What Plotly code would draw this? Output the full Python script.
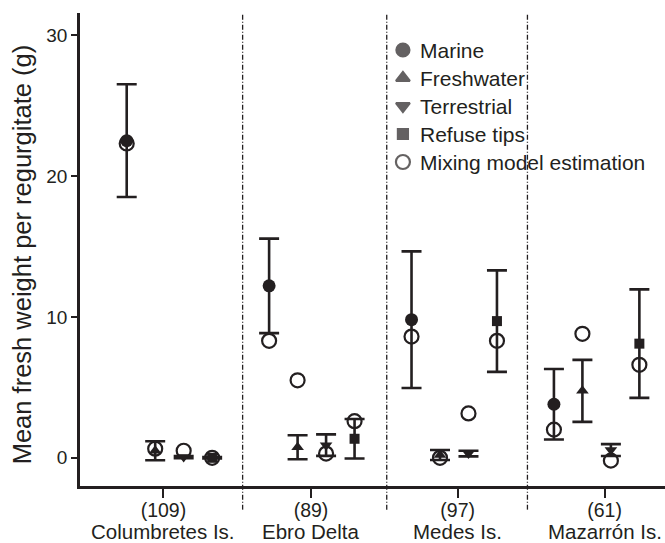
import plotly.graph_objects as go

# Study colonies and sample sizes (number of regurgitates)
sites = ["Columbretes Is.", "Ebro Delta", "Medes Is.", "Mazarrón Is."]
sample_sizes = ["(109)", "(89)", "(97)", "(61)"]

# Mean fresh weight per regurgitate (g) and error by food source
marine_mean = [22.5, 12.2, 9.8, 3.8]
marine_err = [4.0, 3.35, 4.85, 2.5]
fresh_mean = [0.5, 0.75, 0.2, 4.75]
fresh_err = [0.67, 0.85, 0.35, 2.2]
terr_mean = [0.05, 0.9, 0.3, 0.55]
terr_err = [0.08, 0.76, 0.2, 0.42]
refuse_mean = [0.0, 1.35, 9.7, 8.1]
refuse_err = [0.05, 1.4, 3.6, 3.85]

# Mixing model estimation for each source
mix_marine = [22.3, 8.3, 8.6, 2.0]
mix_fresh = [0.65, 5.5, 0.0, 8.8]
mix_terr = [0.5, 0.3, 3.15, -0.2]
mix_refuse = [0.0, 2.6, 8.3, 6.6]

legend_labels = ["Marine", "Freshwater", "Terrestrial", "Refuse tips", "Mixing model estimation"]

# Horizontal layout of the groups
site_x = [0, 5, 10, 15]
tick_x = [1.29, 6.47, 11.62, 16.78]
divider_x = [4.07, 9.13, 14.07]

INK = "#231f20"
FONT = "Liberation Sans, Arial, Helvetica, sans-serif"

fig = go.Figure()

# Open circles: mixing model estimates (drawn first, underneath)
mix_x, mix_y = [], []
for k, vals in enumerate([mix_marine, mix_fresh, mix_terr, mix_refuse]):
    for g, v in enumerate(vals):
        mix_x.append(site_x[g] + k)
        mix_y.append(v)
open_marker = dict(symbol="circle-open", size=14, color=INK, line=dict(width=2.2, color=INK))
fig.add_trace(go.Scatter(x=mix_x, y=mix_y, mode="markers", showlegend=False,
                         marker=open_marker, name="Mixing model estimation"))

series = [
    ("Marine", marine_mean, marine_err, "circle", 13),
    ("Freshwater", fresh_mean, fresh_err, "triangle-up", 11),
    ("Terrestrial", terr_mean, terr_err, "triangle-down", 11),
    ("Refuse tips", refuse_mean, refuse_err, "square", 10),
]
for k, (name, mean, err, sym, sz) in enumerate(series):
    fig.add_trace(go.Scatter(
        x=[p + k for p in site_x], y=mean, mode="markers", name=name, showlegend=False,
        marker=dict(symbol=sym, size=sz, color=INK),
        error_y=dict(type="data", array=err, visible=True, color=INK, thickness=2.6, width=10),
    ))

# Key drawn on an overlay axis spanning the plot area (0..1 both ways)
key_x0, key_top, key_step = 0.552, (486 - 50) / 473, 28 / 473
key_y = [key_top - i * key_step for i in range(len(legend_labels))]
key_symbols = ["circle", "triangle-up", "triangle-down", "square", "circle-open"]
key_sizes = [13, 12, 12, 10, 14]
fig.add_trace(go.Scatter(
    x=[key_x0] * len(legend_labels), y=key_y, xaxis="x2", yaxis="y2",
    mode="markers", showlegend=False, hoverinfo="skip",
    marker=dict(symbol=key_symbols, size=key_sizes, color=INK, line=dict(width=2.2, color=INK)),
))

annotations = []
for label, ky in zip(legend_labels, key_y):
    annotations.append(dict(text=label, x=key_x0 + 0.0265, xref="paper", y=ky, yref="paper",
                            xanchor="left", yanchor="middle", showarrow=False,
                            font=dict(size=21, color=INK, family=FONT)))

# Dash-dot dividers between colonies
for d in divider_x:
    fig.add_shape(type="line", xref="x", yref="paper", x0=d, x1=d, y0=-0.05, y1=1.0,
                  line=dict(color=INK, width=1.3, dash="5px,2px,1px,2px"), layer="below")

for s, tx in zip(sites, tick_x):
    annotations.append(dict(text=s, x=tx, xref="x", y=-0.096, yref="paper",
                            xanchor="center", yanchor="middle", showarrow=False,
                            font=dict(size=20.5, color=INK, family=FONT)))
annotations.append(dict(
    text="Mean fresh weight per regurgitate (g)", textangle=-90,
    x=-0.099, xref="paper", y=0.49, yref="paper", xanchor="center", yanchor="middle",
    showarrow=False, font=dict(size=25.5, color=INK, family=FONT),
))

fig.update_layout(
    width=665, height=543,
    margin=dict(l=80, r=0, t=13, b=57),
    paper_bgcolor="white", plot_bgcolor="white",
    font=dict(family=FONT, color=INK, size=19),
    annotations=annotations,
    showlegend=False,
    xaxis=dict(range=[-1.64, 18.9], showgrid=False, zeroline=False,
               showline=True, linecolor=INK, linewidth=2.5,
               ticks="outside", ticklen=9, tickwidth=2, tickcolor=INK,
               tickvals=tick_x, ticktext=sample_sizes, ticklabelstandoff=-4,
               tickfont=dict(size=19.5, color=INK, family=FONT)),
    yaxis=dict(range=[-2.0, 31.56], showgrid=False, zeroline=False,
               showline=True, linecolor=INK, linewidth=2.5,
               ticks="outside", ticklen=6, tickwidth=2, tickcolor=INK,
               tickvals=[0, 10, 20, 30],
               tickfont=dict(size=19, color=INK, family=FONT)),
    xaxis2=dict(overlaying="x", range=[0, 1], visible=False, fixedrange=True),
    yaxis2=dict(overlaying="y", range=[0, 1], visible=False, fixedrange=True),
)

fig.write_html("out.html")
